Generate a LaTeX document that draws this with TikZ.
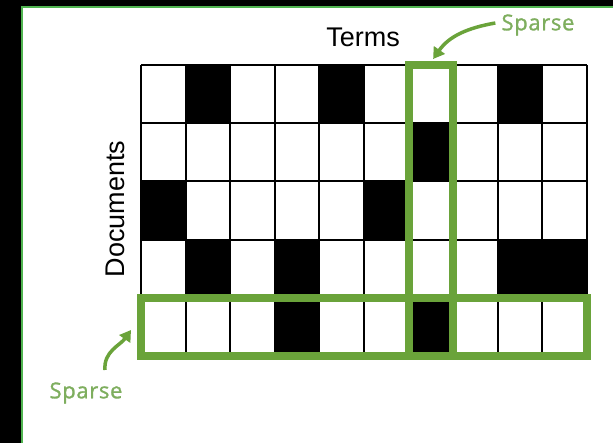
\documentclass[tikz,border=0pt]{standalone}
\usepackage{fontspec}
\setmainfont{Liberation Sans}
\newfontfamily\sparsefont[FakeBold=1.2, LetterSpace=3]{Open Sans}
\usetikzlibrary{arrows.meta}
\definecolor{grn}{RGB}{106,163,58}
\definecolor{grntxt}{RGB}{126,174,94}
\definecolor{frame}{RGB}{80,180,80}
\tikzset{
  gridline/.style={line width=2pt, black},
  hilite/.style={draw=grn, line width=8pt},
  sparselabel/.style={text=grntxt, font=\sparsefont\fontsize{22}{26}\selectfont, inner sep=0pt},
  axislabel/.style={text=black, font=\fontsize{27}{30}\selectfont, inner sep=0pt},
  pointer/.style={draw=grn, line width=3.5pt, -{Triangle[length=11pt,width=13pt]}}
}
\begin{document}
\begin{tikzpicture}[x=1pt,y=-1pt]
\useasboundingbox (0,0) rectangle (613,443);
\fill[black] (0,0) rectangle (613,443);
\fill[white] (22,7) rectangle (613,443);
\draw[frame, line width=1.2pt] (22,443) -- (22,7) -- (613,7);
\def\cw{44.6}
\def\rh{58.2}
\def\xo{141}
\def\yo{65}
% black cells
\foreach \r/\c in {0/1,0/4,0/8,1/6,2/0,2/5,3/1,3/3,3/8,3/9,4/3,4/6}{
  \fill[black] ({\xo+\c*\cw},{\yo+\r*\rh}) rectangle ({\xo+(\c+1)*\cw},{\yo+(\r+1)*\rh});
}
% grid lines
\foreach \c in {0,...,10}{
  \draw[gridline] ({\xo+\c*\cw},\yo) -- ({\xo+\c*\cw},{\yo+5*\rh});
}
\foreach \r in {0,...,5}{
  \draw[gridline] (\xo,{\yo+\r*\rh}) -- ({\xo+10*\cw},{\yo+\r*\rh});
}
% highlights
\draw[hilite] ({\xo+6*\cw},\yo) rectangle ({\xo+7*\cw},{\yo+5*\rh});
\draw[hilite] (\xo,{\yo+4*\rh}) rectangle ({\xo+10*\cw},{\yo+5*\rh});
\coordinate (coltop) at ({\xo+6.55*\cw},59);
\coordinate (rowleft) at (131,330);
% labels
\node[axislabel] (terms) at (363,37) {Terms};
\node[axislabel, rotate=90] (docs) at (115,209) {Documents};
\node[sparselabel] (sp1) at (538,25) {Sparse};
\node[sparselabel] (sp2) at (86,393) {Sparse};
% arrows
\draw[pointer] ([xshift=-6pt,yshift=2pt]sp1.west) to[out=190,in=55] (coltop);
\draw[pointer] ([xshift=19pt,yshift=23pt]sp2.center) to[out=95,in=235] (rowleft);
\end{tikzpicture}
\end{document}
